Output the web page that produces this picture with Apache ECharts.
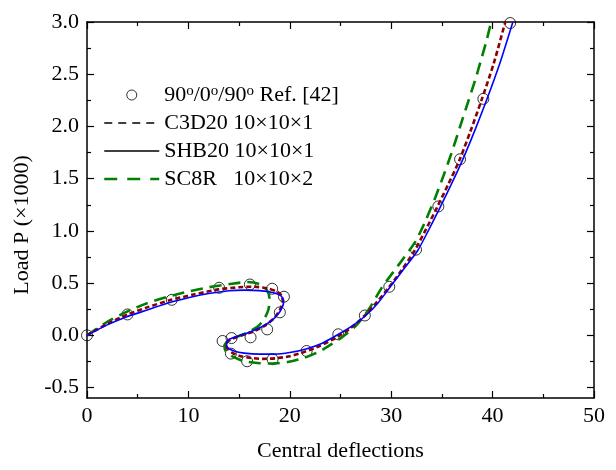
<!DOCTYPE html>
<html>
<head>
<meta charset="utf-8">
<script src="https://cdn.jsdelivr.net/npm/echarts@6/dist/echarts.min.js"></script>
<style>html,body{margin:0;padding:0;background:#fff;}#c{width:616px;height:470px;}</style>
</head>
<body>
<div id="c"></div>
<script>
// ---- Data ----
const seriesNames = ['90°/0°/90° Ref. [42]', 'C3D20 10×10×1', 'SHB20 10×10×1', 'SC8R   10×10×2'];

const refX = [0, 3.99, 8.36, 13.03, 16.06, 18.26, 19.42, 19.02, 17.77, 16.13, 14.25, 13.37, 14.19, 15.79, 18.3, 21.66, 24.78, 27.4, 29.81, 32.45, 34.65, 36.79, 39.09, 41.73];
const refY = [0, 0.20, 0.34, 0.455, 0.487, 0.446, 0.37, 0.22, 0.057, -0.019, -0.026, -0.054, -0.175, -0.248, -0.229, -0.15, 0.01, 0.19, 0.465, 0.82, 1.234, 1.686, 2.264, 2.99];

const c3dX = [0, 2, 4, 6, 8.3, 10.5, 13, 15, 16.5, 17.8, 18.7, 19.2, 19.3, 19.0, 18.4, 17.5, 16.5, 15.3, 14.3, 13.75, 13.8, 14.3, 15.0, 16.0, 17.3, 18.6, 20, 21.4, 23, 24.6, 26, 27.4, 28.6, 29.7, 31, 32.3, 33.4, 34.5, 35.6, 36.7, 37.8, 38.9, 40.1, 41.25];
const c3dY = [0, 0.11, 0.2, 0.27, 0.34, 0.39, 0.44, 0.46, 0.465, 0.45, 0.42, 0.38, 0.32, 0.24, 0.16, 0.09, 0.04, 0.0, -0.035, -0.07, -0.12, -0.165, -0.195, -0.215, -0.225, -0.22, -0.2, -0.16, -0.1, -0.02, 0.07, 0.19, 0.32, 0.45, 0.62, 0.81, 1.01, 1.22, 1.44, 1.67, 1.95, 2.25, 2.6, 3.0];

const shbX = [0, 2, 4, 6, 8, 10, 12, 14, 15.5, 17, 18.3, 19.1, 19.4, 19.3, 18.9, 18.2, 17.2, 16, 14.8, 14.0, 13.75, 13.9, 14.5, 15.5, 17, 18.5, 20, 21.6, 23.2, 24.8, 26.3, 27.5, 28.7, 29.8, 31.2, 32.6, 33.7, 34.8, 35.9, 37.0, 38.2, 39.4, 40.7, 42.0];
const shbY = [0, 0.1, 0.18, 0.245, 0.31, 0.36, 0.4, 0.427, 0.433, 0.428, 0.41, 0.38, 0.33, 0.28, 0.21, 0.14, 0.08, 0.03, -0.01, -0.04, -0.08, -0.12, -0.15, -0.17, -0.18, -0.18, -0.165, -0.13, -0.075, 0.01, 0.1, 0.19, 0.31, 0.45, 0.63, 0.81, 1.01, 1.22, 1.44, 1.67, 1.95, 2.25, 2.6, 3.0];

const sc8X = [0, 2, 4, 6, 8, 10, 12, 14, 15.8, 17, 17.7, 18.0, 17.9, 17.5, 16.9, 16.0, 14.9, 14.0, 13.55, 13.7, 14.3, 15.4, 16.8, 18.3, 19.8, 21.3, 22.8, 24.2, 25.4, 26.6, 27.8, 29.1, 30.7, 32.4, 33.4, 34.35, 35.2, 36.0, 36.8, 37.6, 38.3, 38.9, 39.4, 39.85];
const sc8Y = [0, 0.13, 0.23, 0.31, 0.37, 0.42, 0.46, 0.49, 0.51, 0.49, 0.44, 0.35, 0.25, 0.16, 0.09, 0.035, -0.01, -0.05, -0.1, -0.155, -0.2, -0.245, -0.265, -0.27, -0.255, -0.22, -0.16, -0.08, 0.0, 0.1, 0.25, 0.46, 0.67, 0.9, 1.1, 1.32, 1.54, 1.76, 2.0, 2.24, 2.45, 2.65, 2.82, 3.0];

const xTicks = [0, 10, 20, 30, 40, 50];
const yMajorTicks = [-0.5, 0.0, 0.5, 1.0, 1.5, 2.0, 2.5, 3.0];
const yMinorTicks = [-0.25, 0.25, 0.75, 1.25, 1.75, 2.25, 2.75];

// ---- Build ----
const zip = (xs, ys) => xs.map((x, i) => [x, ys[i]]);
const FONT = 'Liberation Serif';
const black = '#000';

const xBase = {
  type: 'value', min: xTicks[0], max: xTicks[xTicks.length - 1], interval: xTicks[1] - xTicks[0],
  axisLine: { show: true, onZero: false, lineStyle: { color: black, width: 1.5 } },
  axisTick: { show: true, inside: true, length: 7, lineStyle: { color: black, width: 1.2 } },
  minorTick: { show: true, splitNumber: 2, length: 4, lineStyle: { color: black, width: 1.2 } },
  splitLine: { show: false }
};
const yCommon = {
  type: 'value', min: -0.6, max: 3.0,
  splitLine: { show: false }
};

const hideSym = { color: 'rgba(0,0,0,0)', borderWidth: 0, opacity: 0 };

const chart = echarts.init(document.getElementById('c'), null, { renderer: 'canvas' });
chart.setOption({
  animation: false,
  backgroundColor: '#fff',
  grid: { left: 87, right: 22, top: 22, bottom: 72, containLabel: false },
  xAxis: [
    Object.assign({}, xBase, {
      position: 'bottom',
      name: 'Central deflections', nameLocation: 'middle', nameGap: 42,
      nameTextStyle: { fontFamily: FONT, fontSize: 22, color: black },
      axisLabel: { show: true, margin: 7, fontFamily: FONT, fontSize: 22, color: black }
    }),
    Object.assign({}, xBase, { position: 'top', axisLabel: { show: false } })
  ],
  yAxis: [
    Object.assign({}, yCommon, {
      position: 'left',
      name: 'Load P (×1000)', nameLocation: 'middle', nameGap: 53,
      nameTextStyle: { fontFamily: FONT, fontSize: 22, color: black, padding: [0, 30, 0, 0] },
      axisLine: { show: true, onZero: false, lineStyle: { color: black, width: 1.5 } },
      axisTick: { show: true, inside: true, length: 7, customValues: yMajorTicks, lineStyle: { color: black, width: 1.2 } },
      axisLabel: { show: true, margin: 8, customValues: yMajorTicks, fontFamily: FONT, fontSize: 22, color: black,
        formatter: v => v.toFixed(1) }
    }),
    Object.assign({}, yCommon, {
      position: 'left',
      axisLine: { show: false, onZero: false },
      axisTick: { show: true, inside: true, length: 4, customValues: yMinorTicks, lineStyle: { color: black, width: 1.2 } },
      axisLabel: { show: false }
    }),
    Object.assign({}, yCommon, {
      position: 'right',
      axisLine: { show: true, onZero: false, lineStyle: { color: black, width: 1.5 } },
      axisTick: { show: true, inside: true, length: 7, customValues: yMajorTicks, lineStyle: { color: black, width: 1.2 } },
      axisLabel: { show: false }
    }),
    Object.assign({}, yCommon, {
      position: 'right',
      axisLine: { show: false, onZero: false },
      axisTick: { show: true, inside: true, length: 4, customValues: yMinorTicks, lineStyle: { color: black, width: 1.2 } },
      axisLabel: { show: false }
    })
  ],
  legend: {
    orient: 'vertical', left: 98, top: 79, itemGap: 6, itemWidth: 55, itemHeight: 10,
    textStyle: {
      fontFamily: FONT, fontSize: 22, color: black,
      rich: { s: { fontFamily: FONT, fontSize: 15, color: black, verticalAlign: 'top', lineHeight: 7 } }
    },
    formatter: name => name === seriesNames[0] ? '90{s|o}/0{s|o}/90{s|o} Ref. [42]' : name,
    data: [
      { name: seriesNames[0], icon: 'circle', itemStyle: { color: 'rgba(0,0,0,0)', borderColor: black, borderWidth: 1 } },
      { name: seriesNames[1], itemStyle: hideSym, lineStyle: { color: black, width: 1.5, type: [8, 6] } },
      { name: seriesNames[2], itemStyle: hideSym, lineStyle: { color: black, width: 1.5, type: 'solid' } },
      { name: seriesNames[3], itemStyle: hideSym, lineStyle: { color: '#008000', width: 2.5, type: [13, 10] } }
    ]
  },
  series: [
    {
      name: seriesNames[0], type: 'scatter', data: zip(refX, refY), z: 2,
      symbol: 'circle', symbolSize: 11,
      itemStyle: { color: 'rgba(0,0,0,0)', borderColor: black, borderWidth: 1 }
    },
    {
      name: seriesNames[1], type: 'line', data: zip(c3dX, c3dY), z: 4,
      showSymbol: false, symbol: 'none', smooth: 0.25, clip: true,
      itemStyle: { color: '#8B0000' },
      lineStyle: { color: '#8B0000', width: 2.6, type: [5, 3] }
    },
    {
      name: seriesNames[2], type: 'line', data: zip(shbX, shbY), z: 5,
      showSymbol: false, symbol: 'none', smooth: 0.25, clip: true,
      itemStyle: { color: '#0000FF' },
      lineStyle: { color: '#0000FF', width: 1.6 }
    },
    {
      name: seriesNames[3], type: 'line', data: zip(sc8X, sc8Y), z: 3,
      showSymbol: false, symbol: 'none', smooth: 0.25, clip: true,
      itemStyle: { color: '#008000' },
      lineStyle: { color: '#008000', width: 2.6, type: [12, 7] }
    }
  ]
});
</script>
</body>
</html>
